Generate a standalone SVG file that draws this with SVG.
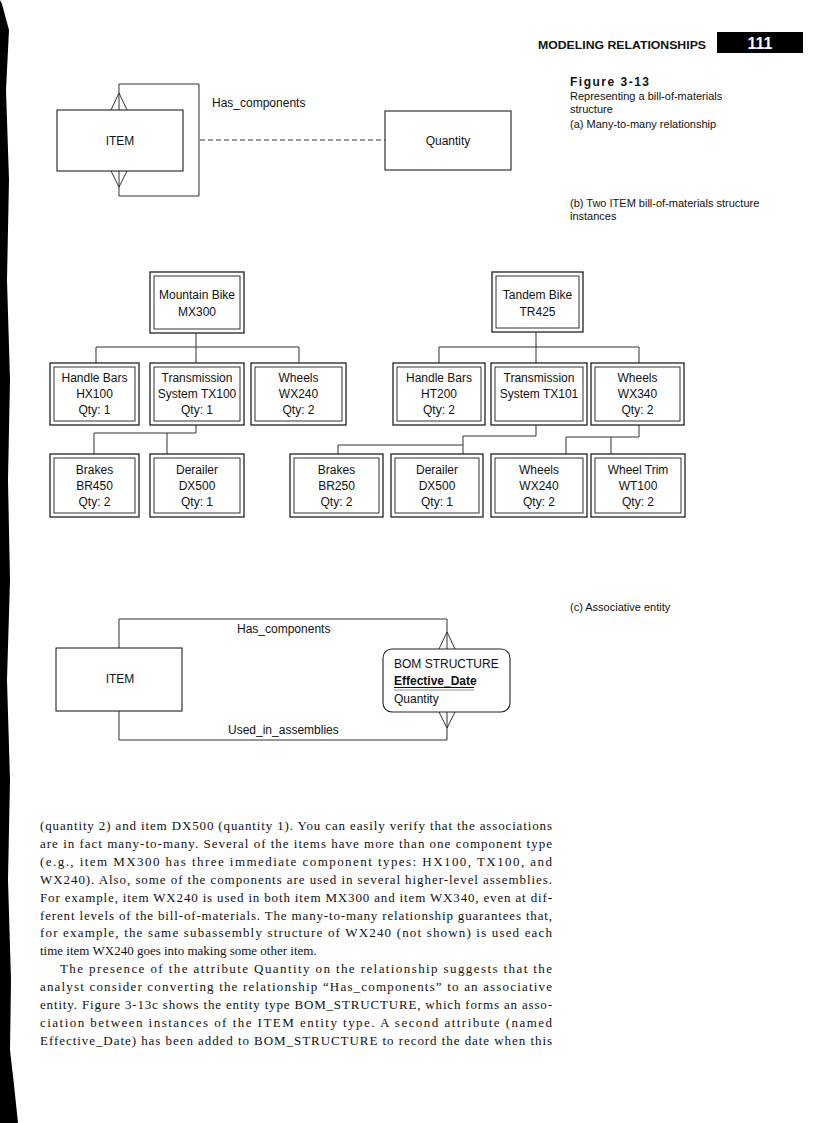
<svg xmlns="http://www.w3.org/2000/svg" width="816" height="1123" viewBox="0 0 816 1123">
<style>
.bg{fill:#ffffff}
.o{fill:#ffffff;stroke:#222;stroke-width:1.3}
.i{fill:none;stroke:#333;stroke-width:1}
.ent{fill:#ffffff;stroke:#222;stroke-width:1.1}
.t{font-family:"Liberation Sans",Arial,sans-serif;font-size:12px;fill:#111;text-anchor:middle}
.tl{font-family:"Liberation Sans",Arial,sans-serif;font-size:12px;fill:#111}
.cap{font-family:"Liberation Sans",Arial,sans-serif;font-size:11px;fill:#111}
.ln{fill:none;stroke:#333;stroke-width:1}
.body{font-family:"Liberation Serif","Times New Roman",serif;font-size:13px;fill:#111}
</style>
<rect class="bg" x="0" y="0" width="816" height="1123"/>
<!-- scan edge -->
<polygon points="0,0 2,4 9,30 6,90 9,180 7,280 10,380 8,480 10,580 7,680 10,780 8,880 11,980 10,1050 14,1085 18,1123 0,1123" fill="#000"/>

<!-- header -->
<g id="header">
<text x="538" y="49" font-family="'Liberation Sans',Arial,sans-serif" font-size="10.5" font-weight="bold" fill="#111" textLength="168" lengthAdjust="spacingAndGlyphs">MODELING RELATIONSHIPS</text>
<rect x="717" y="32" width="86" height="21" fill="#000"/>
<text x="760" y="49" font-family="'Liberation Sans',Arial,sans-serif" font-size="16" font-weight="bold" fill="#fff" text-anchor="middle">111</text>
</g>

<!-- captions -->
<g id="captions">
<text x="570" y="86" font-family="'Liberation Sans',Arial,sans-serif" font-size="12" font-weight="bold" fill="#111" textLength="79" lengthAdjust="spacing">Figure 3-13</text>
<text class="cap" x="570" y="100">Representing a bill-of-materials</text>
<text class="cap" x="570" y="113">structure</text>
<text class="cap" x="570" y="128">(a) Many-to-many relationship</text>
<text class="cap" x="570" y="207">(b) Two ITEM bill-of-materials structure</text>
<text class="cap" x="570" y="220">instances</text>
<text class="cap" x="570" y="611">(c) Associative entity</text>
</g>

<!-- (a) -->
<g id="connectors-a">
<path class="ln" d="M119,110 V84 H199 V196 H119 V171"/>
<path class="ln" d="M111,110 L119,93 L127,110"/>
<path class="ln" d="M111,171 L119,187 L127,171"/>
<line class="ln" x1="200" y1="140" x2="385" y2="140" stroke-dasharray="5,3"/>
<text class="tl" x="212" y="107">Has_components</text>
</g>
<g id="a-item">
<rect class="ent" x="57" y="110" width="126" height="61"/>
<text class="t" x="120" y="145">ITEM</text>
</g>
<g id="a-quantity">
<rect class="ent" x="385" y="111" width="126" height="59"/>
<text class="t" x="448" y="145">Quantity</text>
</g>

<!-- (b) connectors -->
<g id="connectors-b">
<path class="ln" d="M196,333 V347 M96,347 H299 M96,347 V363 M196,347 V363 M299,347 V363"/>
<path class="ln" d="M196,425 V433 M94,433 H196 M94,433 V454 M167,433 V454"/>
<path class="ln" d="M536,332 V347 M439,347 H639 M439,347 V363 M536,347 V363 M639,347 V363"/>
<path class="ln" d="M536,425 V436 H463 V454 M463,445 H338 V454"/>
<path class="ln" d="M639,425 V437 M566,437 H639 M566,437 V454 M611,437 V454"/>
</g>

<!-- (b) left tree -->
<g id="mx300">
<rect class="o" x="150" y="272" width="94" height="61"/><rect class="i" x="154" y="276" width="86" height="53"/>
<text class="t" x="197" y="299">Mountain Bike</text><text class="t" x="197" y="316">MX300</text>
</g>
<g id="hx100">
<rect class="o" x="50" y="363" width="89" height="62"/><rect class="i" x="54" y="367" width="81" height="54"/>
<text class="t" x="94.5" y="382">Handle Bars</text><text class="t" x="94.5" y="398">HX100</text><text class="t" x="94.5" y="414">Qty: 1</text>
</g>
<g id="tx100">
<rect class="o" x="150" y="363" width="94" height="62"/><rect class="i" x="154" y="367" width="86" height="54"/>
<text class="t" x="197" y="382">Transmission</text><text class="t" x="197" y="398">System TX100</text><text class="t" x="197" y="414">Qty: 1</text>
</g>
<g id="wx240a">
<rect class="o" x="251" y="363" width="95" height="62"/><rect class="i" x="255" y="367" width="87" height="54"/>
<text class="t" x="298.5" y="382">Wheels</text><text class="t" x="298.5" y="398">WX240</text><text class="t" x="298.5" y="414">Qty: 2</text>
</g>
<g id="br450">
<rect class="o" x="50" y="454" width="89" height="63"/><rect class="i" x="54" y="458" width="81" height="55"/>
<text class="t" x="94.5" y="474">Brakes</text><text class="t" x="94.5" y="490">BR450</text><text class="t" x="94.5" y="506">Qty: 2</text>
</g>
<g id="dx500a">
<rect class="o" x="150" y="454" width="94" height="63"/><rect class="i" x="154" y="458" width="86" height="55"/>
<text class="t" x="197" y="474">Derailer</text><text class="t" x="197" y="490">DX500</text><text class="t" x="197" y="506">Qty: 1</text>
</g>
<g id="br250">
<rect class="o" x="290" y="454" width="93" height="63"/><rect class="i" x="294" y="458" width="85" height="55"/>
<text class="t" x="336.5" y="474">Brakes</text><text class="t" x="336.5" y="490">BR250</text><text class="t" x="336.5" y="506">Qty: 2</text>
</g>

<!-- (b) right tree -->
<g id="tr425">
<rect class="o" x="492" y="272" width="91" height="60"/><rect class="i" x="496" y="276" width="83" height="52"/>
<text class="t" x="537.5" y="299">Tandem Bike</text><text class="t" x="537.5" y="316">TR425</text>
</g>
<g id="ht200">
<rect class="o" x="393" y="363" width="92" height="62"/><rect class="i" x="397" y="367" width="84" height="54"/>
<text class="t" x="439" y="382">Handle Bars</text><text class="t" x="439" y="398">HT200</text><text class="t" x="439" y="414">Qty: 2</text>
</g>
<g id="tx101">
<rect class="o" x="491" y="363" width="96" height="62"/><rect class="i" x="495" y="367" width="88" height="54"/>
<text class="t" x="539" y="382">Transmission</text><text class="t" x="539" y="398">System TX101</text>
</g>
<g id="wx340">
<rect class="o" x="591" y="363" width="93" height="62"/><rect class="i" x="595" y="367" width="85" height="54"/>
<text class="t" x="637.5" y="382">Wheels</text><text class="t" x="637.5" y="398">WX340</text><text class="t" x="637.5" y="414">Qty: 2</text>
</g>
<g id="dx500b">
<rect class="o" x="391" y="454" width="92" height="63"/><rect class="i" x="395" y="458" width="84" height="55"/>
<text class="t" x="437" y="474">Derailer</text><text class="t" x="437" y="490">DX500</text><text class="t" x="437" y="506">Qty: 1</text>
</g>
<g id="wx240b">
<rect class="o" x="491" y="454" width="96" height="63"/><rect class="i" x="495" y="458" width="88" height="55"/>
<text class="t" x="539" y="474">Wheels</text><text class="t" x="539" y="490">WX240</text><text class="t" x="539" y="506">Qty: 2</text>
</g>
<g id="wt100">
<rect class="o" x="591" y="454" width="94" height="63"/><rect class="i" x="595" y="458" width="86" height="55"/>
<text class="t" x="638" y="474">Wheel Trim</text><text class="t" x="638" y="490">WT100</text><text class="t" x="638" y="506">Qty: 2</text>
</g>

<!-- (c) -->
<g id="connectors-c">
<path class="ln" d="M119,648 V619 H447 V649"/>
<path class="ln" d="M439,649 L447,632 L455,649"/>
<path class="ln" d="M119,711 V740 H447 V712"/>
<path class="ln" d="M439,712 L447,728 L455,712"/>
<text class="tl" x="237" y="633">Has_components</text>
<text class="tl" x="228" y="734">Used_in_assemblies</text>
</g>
<g id="c-item">
<rect class="ent" x="56" y="648" width="126" height="63"/>
<text class="t" x="120" y="683">ITEM</text>
</g>
<g id="c-bom">
<rect class="ent" x="383" y="649" width="127" height="63" rx="9"/>
<text class="tl" x="394" y="668">BOM STRUCTURE</text>
<text class="tl" x="394" y="685" font-weight="bold">Effective_Date</text>
<line x1="394" y1="687.5" x2="474" y2="687.5" stroke="#111" stroke-width="1"/>
<line x1="394" y1="690" x2="474" y2="690" stroke="#777" stroke-width="0.8"/>
<text class="tl" x="394" y="703">Quantity</text>
</g>

<!-- body text -->
<g id="body">
<text class="body" x="40" y="830" textLength="512" lengthAdjust="spacing">(quantity 2) and item DX500 (quantity 1). You can easily verify that the associations</text>
<text class="body" x="40" y="848" textLength="512" lengthAdjust="spacing">are in fact many-to-many. Several of the items have more than one component type</text>
<text class="body" x="40" y="866" textLength="512" lengthAdjust="spacing">(e.g., item MX300 has three immediate component types: HX100, TX100, and</text>
<text class="body" x="40" y="884" textLength="512" lengthAdjust="spacing">WX240). Also, some of the components are used in several higher-level assemblies.</text>
<text class="body" x="40" y="902" textLength="512" lengthAdjust="spacing">For example, item WX240 is used in both item MX300 and item WX340, even at dif-</text>
<text class="body" x="40" y="920" textLength="512" lengthAdjust="spacing">ferent levels of the bill-of-materials. The many-to-many relationship guarantees that,</text>
<text class="body" x="40" y="937" textLength="512" lengthAdjust="spacing">for example, the same subassembly structure of WX240 (not shown) is used each</text>
<text class="body" x="40" y="955">time item WX240 goes into making some other item.</text>
<text class="body" x="60" y="973" textLength="492" lengthAdjust="spacing">The presence of the attribute Quantity on the relationship suggests that the</text>
<text class="body" x="40" y="991" textLength="512" lengthAdjust="spacing">analyst consider converting the relationship “Has_components” to an associative</text>
<text class="body" x="40" y="1009" textLength="512" lengthAdjust="spacing">entity. Figure 3-13c shows the entity type BOM_STRUCTURE, which forms an asso-</text>
<text class="body" x="40" y="1027" textLength="512" lengthAdjust="spacing">ciation between instances of the ITEM entity type. A second attribute (named</text>
<text class="body" x="40" y="1045" textLength="512" lengthAdjust="spacing">Effective_Date) has been added to BOM_STRUCTURE to record the date when this</text>
</g>
</svg>
